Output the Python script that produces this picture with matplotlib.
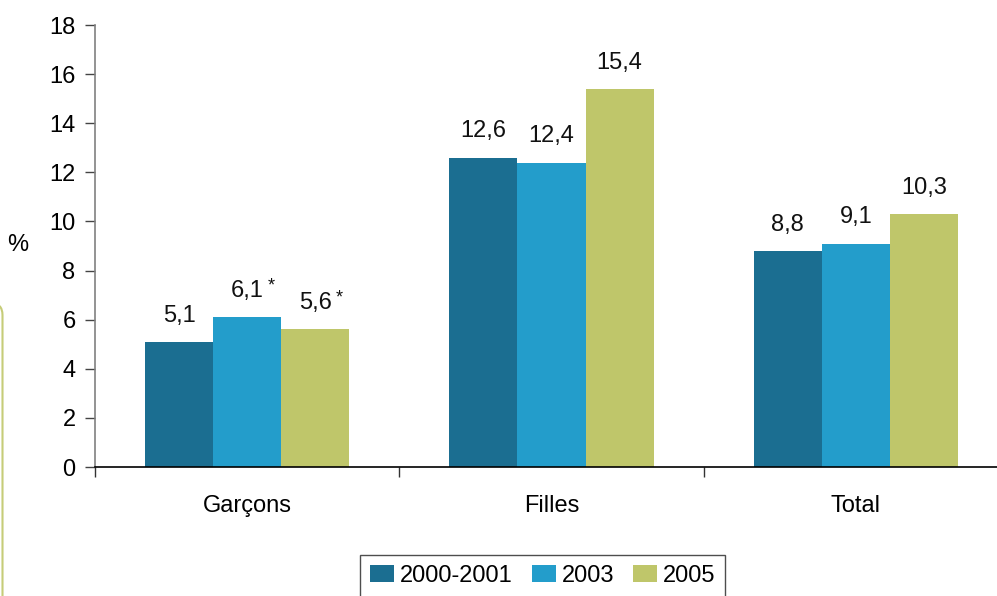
import matplotlib
matplotlib.use("Agg")
import matplotlib.pyplot as plt
from matplotlib.patches import FancyBboxPatch
import numpy as np

plt.rcParams['font.family'] = ['Liberation Sans', 'DejaVu Sans']

categories = ["Garçons", "Filles", "Total"]
series_names = ["2000-2001", "2003", "2005"]
values = {
    "2000-2001": [5.1, 12.6, 8.8],
    "2003": [6.1, 12.4, 9.1],
    "2005": [5.6, 15.4, 10.3],
}
flags = {
    "2000-2001": ["", "", ""],
    "2003": ["*", "", ""],
    "2005": ["*", "", ""],
}
colors = ["#1B6E91", "#239DCB", "#BFC66A"]
yticks = [0, 2, 4, 6, 8, 10, 12, 14, 16, 18]

FS = 17
W, H = 997, 596
fig = plt.figure(figsize=(W / 100, H / 100), dpi=100)
ax = fig.add_axes([95 / W, 1 - 467 / H, (1008 - 95) / W, (467 - 25) / H])

x = np.arange(len(categories))
bw = 0.224
for i, name in enumerate(series_names):
    pos = x + (i - 1) * bw
    ax.bar(pos, values[name], width=bw, color=colors[i], label=name, zorder=2)
    for xp, v, fl in zip(pos, values[name], flags[name]):
        label = f"{v:.1f}".replace(".", ",")
        ax.annotate(label, (xp, v), xytext=(0, 14.5), textcoords="offset points",
                    ha="center", va="baseline", fontsize=FS, color="#111111")
        if fl:
            ax.annotate(fl, (xp, v), xytext=(17, 19.5), textcoords="offset points",
                        ha="center", va="baseline", fontsize=13, color="#111111")

ax.set_xlim(-0.5, 2.5)
ax.set_ylim(0, 18)
ax.set_yticks(yticks)
ax.set_yticklabels([str(t) for t in yticks], fontsize=FS)
ax.set_xticks(x)
ax.set_xticklabels(categories, fontsize=FS)
ax.tick_params(axis="x", length=0, pad=20)
ax.set_xticks([-0.5, 0.5, 1.5], minor=True)
ax.tick_params(axis="x", which="minor", length=7, width=1, color="#333333", direction="out")
ax.tick_params(axis="y", length=7, width=1, color="#444444", pad=7, direction="out")
for s in ["top", "right"]:
    ax.spines[s].set_visible(False)
ax.spines["left"].set_color("#808080")
ax.spines["left"].set_linewidth(1.2)
ax.spines["bottom"].set_color("#000000")
ax.spines["bottom"].set_linewidth(1.2)

fig.text(18 / W, 1 - 245 / H, "%", fontsize=FS, ha="center", va="center")

leg = fig.legend(loc="upper left", bbox_to_anchor=(360 / W, 1 - 555 / H), ncol=3,
                 fontsize=FS, frameon=True, fancybox=False, borderaxespad=0,
                 handlelength=1.02, handleheight=0.72, handletextpad=0.25,
                 columnspacing=0.8, borderpad=0.42)
leg.get_frame().set_edgecolor("#222222")
leg.get_frame().set_linewidth(1.0)

# rounded frame edge at the left margin
frame = FancyBboxPatch((-300, -100), 302.5 - 12, (H - 303) + 100 - 12,
                       boxstyle="round,pad=12,rounding_size=12",
                       transform=None, facecolor="none", edgecolor="#C6CC78",
                       linewidth=1.5)
fig.patches.append(frame)

fig.savefig("out.png", dpi=100)
